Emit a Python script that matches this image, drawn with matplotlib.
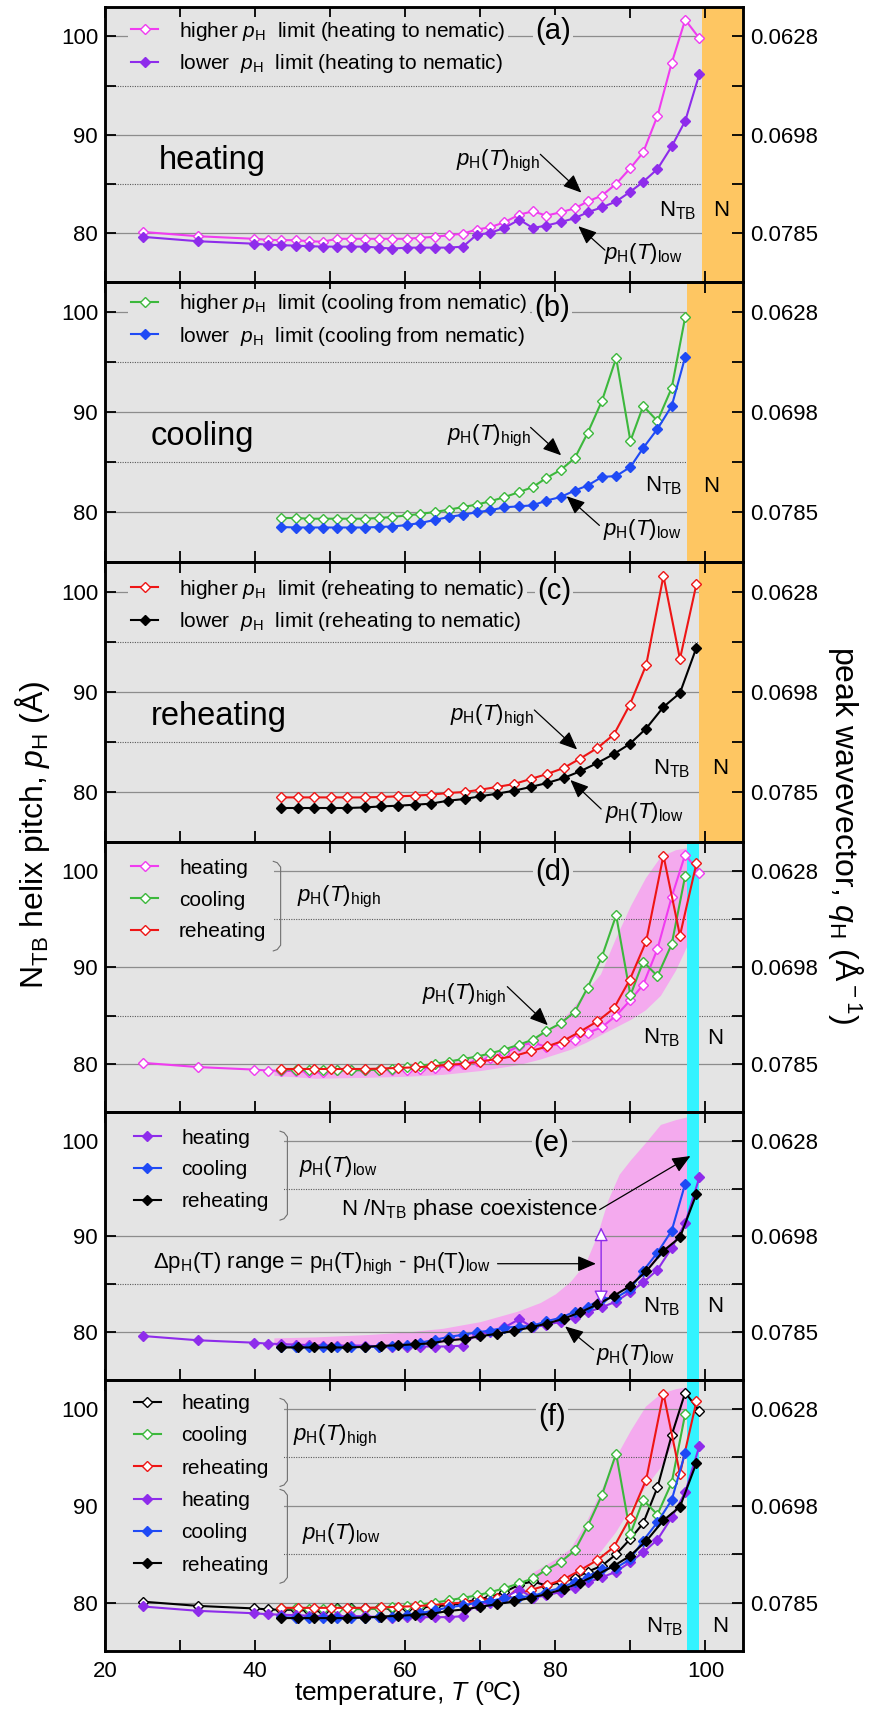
import numpy as np
import matplotlib
matplotlib.use("Agg")
import matplotlib.pyplot as plt
from matplotlib.lines import Line2D
from matplotlib.patches import Rectangle

plt.rcParams['font.family'] = ['Liberation Sans', 'DejaVu Sans']
plt.rcParams['mathtext.fontset'] = 'custom'
plt.rcParams['mathtext.rm'] = 'Liberation Sans'
plt.rcParams['mathtext.it'] = 'Liberation Sans:italic'
plt.rcParams['mathtext.bf'] = 'Liberation Sans:bold'

# ---------------- data ----------------
T_heat = [25.0, 32.4, 39.8, 41.7, 43.5, 45.4, 47.2, 49.0, 50.9, 52.8, 54.6, 56.5,
          58.3, 60.2, 62.0, 63.9, 65.8, 67.7, 69.5, 71.3, 73.2, 75.2, 77.0, 78.8,
          80.7, 82.6, 84.3, 86.2, 88.1, 90.0, 91.7, 93.6, 95.5, 97.3, 99.2]
heat_high = [80.1, 79.66, 79.4, 79.3, 79.26, 79.26, 79.15, 79.1, 79.4, 79.4, 79.4, 79.4,
             79.4, 79.4, 79.5, 79.6, 79.76, 79.93, 80.34, 80.57, 81.08, 81.86, 82.2, 81.76,
             82.1, 82.5, 83.2, 83.8, 85.0, 86.6, 88.2, 91.9, 97.3, 101.7, 99.8]
heat_low = [79.6, 79.15, 78.9, 78.8, 78.75, 78.7, 78.65, 78.6, 78.6, 78.6, 78.6, 78.5,
            78.4, 78.5, 78.5, 78.5, 78.5, 78.6, 79.8, 80.0, 80.5, 81.35, 80.5, 80.75,
            81.1, 81.5, 82.1, 82.6, 83.2, 84.2, 85.2, 86.5, 88.8, 91.4, 96.2]

T_cool = [43.5, 45.4, 47.2, 49.0, 50.9, 52.8, 54.6, 56.5, 58.3, 60.2, 62.0, 63.9,
          65.8, 67.7, 69.5, 71.3, 73.2, 75.2, 77.0, 78.8, 80.7, 82.6, 84.3, 86.2,
          88.1, 90.0, 91.7, 93.6, 95.5, 97.3]
cool_high = [79.4, 79.4, 79.33, 79.33, 79.33, 79.33, 79.33, 79.4, 79.5, 79.66, 79.8, 80.0,
             80.23, 80.5, 80.74, 81.07, 81.48, 82.0, 82.5, 83.4, 84.2, 85.4, 87.9, 91.1,
             95.4, 87.1, 90.6, 89.1, 92.4, 99.5]
cool_low = [78.5, 78.45, 78.45, 78.45, 78.45, 78.45, 78.45, 78.5, 78.55, 78.7, 78.9, 79.2,
            79.5, 79.73, 79.97, 80.17, 80.47, 80.57, 80.67, 81.14, 81.5, 82.15, 82.65, 83.5,
            83.6, 84.5, 86.4, 88.3, 90.6, 95.5]

T_reheat = [43.5, 45.7, 47.9, 50.1, 52.3, 54.6, 56.8, 59.0, 61.3, 63.4, 65.7, 67.9,
            70.0, 72.2, 74.5, 76.7, 78.9, 81.1, 83.3, 85.6, 87.8, 89.9, 92.1, 94.4,
            96.6, 98.8]
reheat_high = [79.46, 79.46, 79.46, 79.46, 79.46, 79.46, 79.5, 79.57, 79.63, 79.73, 79.9, 80.0,
               80.23, 80.5, 80.8, 81.3, 81.8, 82.4, 83.34, 84.4, 85.75, 88.7, 92.7, 101.6,
               93.3, 100.8]
reheat_low = [78.4, 78.4, 78.4, 78.4, 78.4, 78.46, 78.56, 78.63, 78.73, 78.83, 79.13, 79.3,
              79.57, 79.83, 80.13, 80.5, 80.9, 81.4, 82.07, 82.9, 83.8, 84.8, 86.35, 88.5,
              89.9, 94.45]

# N phase (orange) onsets for panels a-c, coexistence (cyan) band for d-f
nematic_start = [99.55, 97.55, 99.2]
coexist_band = [97.55, 99.1]

# shaded ranges
d_band_x = [42.5, 48, 55, 60, 65, 70, 75, 78, 80, 82, 84, 86, 88, 90, 92, 94, 96, 97.5, 98.5, 99.1]
d_band_hi = [79.5, 79.5, 79.6, 79.8, 80.2, 80.8, 82.0, 83.0, 84.0, 85.5, 87.5, 89.3, 93.0, 96.4,
             99.3, 101.5, 102.2, 102.4, 102.0, 101.0]
d_band_lo = [78.8, 78.5, 78.6, 78.7, 78.9, 79.3, 79.9, 80.5, 81.0, 81.5, 82.2, 83.0, 83.8, 84.6,
             85.6, 87.1, 89.7, 92.2, 94.0, 96.5]

e_band_x = [42.5, 48, 55, 60, 65, 70, 75, 78, 80, 82, 84, 85.5, 87, 88.5, 90, 92, 94, 96, 97.55]
e_band_hi = [79.4, 79.5, 79.75, 80.0, 80.4, 81.1, 82.2, 83.1, 84.0, 85.3, 87.2, 90.0, 93.8, 96.5,
             98.0, 99.8, 101.7, 102.2, 102.5]
e_band_lo = [78.6, 78.4, 78.4, 78.6, 78.9, 79.5, 80.3, 80.8, 81.2, 81.7, 82.3, 82.9, 83.6, 84.3,
             85.0, 86.2, 88.0, 89.5, 91.5]

f_band_x = [76.5, 78, 80, 82, 84, 86, 88, 90, 92, 94, 96, 97.55]
f_band_hi = [82.9, 83.6, 84.5, 85.6, 88.2, 91.5, 95.0, 97.8, 100.3, 101.6, 102.1, 102.3]
f_band_lo = [82.3, 81.8, 82.0, 82.6, 83.7, 85.3, 87.3, 89.8, 92.0, 94.0, 97.0, 99.5]

x_ticks = [20, 30, 40, 50, 60, 70, 80, 90, 100]
x_ticklabels = ['20', '', '40', '', '60', '', '80', '', '100']
y_ticks = [80, 85, 90, 95, 100]
y_ticklabels = ['80', '', '90', '', '100']
q_labels = [f"{2*np.pi/p:.4f}" if p % 10 == 0 else '' for p in y_ticks]

# ---------------- styles ----------------
BG = '#E4E4E4'
C_HEAT_HI = '#F03CF0'
C_HEAT_LO = '#8E2CEB'
C_COOL_HI = '#3CB83C'
C_COOL_LO = '#1F4AF5'
C_RE_HI = '#EE1515'
C_RE_LO = '#000000'
ORANGE = '#FEC662'
CYAN = '#33F3FF'
PINK = '#F4AAEE'
FS_TICK = 16
FS_ANN = 16
FS_LEG = 15
MS = 5.4
LW = 1.5

fig = plt.figure(figsize=(8.73, 17.11), dpi=100)
W, H = 873.0, 1711.0
left_px, right_px = 105, 743
panel_edges = [7, 282, 562, 842, 1112, 1380, 1651]

axes = []
for i in range(6):
    top, bot = panel_edges[i], panel_edges[i + 1]
    ax = fig.add_axes([left_px / W, 1 - bot / H, (right_px - left_px) / W, (bot - top) / H])
    axes.append(ax)

def style_axis(ax, bottom_labels):
    ax.set_facecolor(BG)
    ax.set_xlim(20, 105)
    ax.set_ylim(75, 103)
    ax.set_xticks(x_ticks)
    ax.set_xticklabels(x_ticklabels if bottom_labels else [''] * len(x_ticks))
    ax.set_yticks(y_ticks)
    ax.set_yticklabels(y_ticklabels)
    ax.tick_params(axis='both', direction='in', length=8, width=1.3, labelsize=FS_TICK,
                   top=True, right=False, pad=5)
    ax.tick_params(axis='x', pad=7)
    for s in ax.spines.values():
        s.set_linewidth(1.8)
    for y in (80, 90, 100):
        ax.axhline(y, color='#8c8c8c', lw=0.9, zorder=1)
    for y in (85, 95):
        ax.axhline(y, color='#5a5a5a', lw=0.8, ls=(0, (1, 1.2)), zorder=1)
    ax2 = ax.twinx()
    ax2.set_ylim(75, 103)
    ax2.set_yticks(y_ticks)
    ax2.set_yticklabels(q_labels)
    ax2.tick_params(axis='y', direction='in', length=8, width=1.3, labelsize=FS_TICK, pad=5)
    for s in ax2.spines.values():
        s.set_linewidth(1.8)

def series(ax, x, y, color, filled, line_color=None, z=3):
    lc = color if line_color is None else line_color
    ax.plot(x, y, '-', color=lc, lw=LW, marker='D', ms=MS,
            mfc=(color if filled else 'white'), mec=color, mew=1.0, zorder=z)

def handle(color, filled, line_color=None):
    lc = color if line_color is None else line_color
    return Line2D([], [], color=lc, lw=LW, marker='D', ms=MS,
                  mfc=(color if filled else 'white'), mec=color, mew=1.0)

def legend(ax, handles, labels, anchor, spacing):
    lg = ax.legend(handles, labels, loc='upper left', bbox_to_anchor=anchor, fontsize=FS_LEG,
                   frameon=True, fancybox=False, facecolor=BG, edgecolor='none', framealpha=1,
                   borderpad=0.15, borderaxespad=0, handlelength=1.3, handletextpad=1.0,
                   labelspacing=spacing, numpoints=1)
    lg.set_zorder(4)
    return lg

def arrow(ax, tail, head):
    ax.annotate('', xy=head, xytext=tail,
                arrowprops=dict(arrowstyle='-|>,head_length=0.7,head_width=0.3',
                                color='k', lw=0.9, shrinkA=0, shrinkB=0, mutation_scale=16),
                zorder=6)

def bracket(ax, x0, x1, ytop, ybot):
    d = 0.6
    ym = (ytop + ybot) / 2
    xs = [x0, x0 + 0.55 * (x1 - x0), x1, x1, x1, x1, x0 + 0.55 * (x1 - x0), x0]
    ys = [ytop, ytop - 0.25 * d, ytop - d, ym, ym, ybot + d, ybot + 0.25 * d, ybot]
    ax.plot(xs, ys, color='#707070', lw=0.8, zorder=5, solid_capstyle='round')

def ntb_labels(ax, x_ntb, x_n, y):
    ax.text(x_ntb, y, 'N$_{\\rm TB}$', fontsize=FS_ANN, ha='center', va='center', zorder=6)
    ax.text(x_n, y, 'N', fontsize=FS_ANN, ha='center', va='center', zorder=6)

def panel_label(ax, x, y, s):
    ax.text(x, y, s, fontsize=21, ha='center', va='center', zorder=6,
            bbox=dict(fc=BG, ec='none', pad=1.5))

HIGH = '$p_{\\rm H}(T)_{\\rm high}$'
LOW = '$p_{\\rm H}(T)_{\\rm low}$'

for i, ax in enumerate(axes):
    style_axis(ax, i == 5)

# ---- (a) heating ----
ax = axes[0]
ax.axvspan(nematic_start[0], 105, color=ORANGE, zorder=1.5, lw=0)
series(ax, T_heat, heat_high, C_HEAT_HI, False)
series(ax, T_heat, heat_low, C_HEAT_LO, True)
legend(ax, [handle(C_HEAT_HI, False), handle(C_HEAT_LO, True)],
       ['higher $p_{\\rm H}$  limit (heating to nematic)', 'lower  $p_{\\rm H}$  limit (heating to nematic)'],
       (0.036, 0.965), 0.45)
panel_label(ax, 79.7, 100.6, '(a)')
ax.text(27.2, 87.4, 'heating', fontsize=23.5, ha='left', va='center', zorder=6)
ax.text(78.0, 87.3, HIGH, fontsize=FS_ANN, ha='right', va='center', zorder=6)
arrow(ax, (78.0, 88.0), (83.47, 84.1))
ax.text(86.45, 77.95, LOW, fontsize=FS_ANN, ha='left', va='center', zorder=6)
arrow(ax, (86.6, 78.25), (83.06, 80.68))
ntb_labels(ax, 96.3, 102.1, 82.3)

# ---- (b) cooling ----
ax = axes[1]
ax.axvspan(nematic_start[1], 105, color=ORANGE, zorder=1.5, lw=0)
series(ax, T_cool, cool_high, C_COOL_HI, False)
series(ax, T_cool, cool_low, C_COOL_LO, True)
legend(ax, [handle(C_COOL_HI, False), handle(C_COOL_LO, True)],
       ['higher $p_{\\rm H}$  limit (cooling from nematic)', 'lower  $p_{\\rm H}$  limit (cooling from nematic)'],
       (0.036, 0.975), 0.45)
panel_label(ax, 79.6, 100.4, '(b)')
ax.text(26.1, 87.6, 'cooling', fontsize=23.5, ha='left', va='center', zorder=6)
ax.text(76.7, 87.6, HIGH, fontsize=FS_ANN, ha='right', va='center', zorder=6)
arrow(ax, (76.7, 88.46), (80.77, 85.67))
ax.text(86.4, 78.2, LOW, fontsize=FS_ANN, ha='left', va='center', zorder=6)
arrow(ax, (85.87, 78.66), (81.5, 81.58))
ntb_labels(ax, 94.4, 100.7, 82.6)

# ---- (c) reheating ----
ax = axes[2]
ax.axvspan(nematic_start[2], 105, color=ORANGE, zorder=1.5, lw=0)
series(ax, T_reheat, reheat_high, C_RE_HI, False)
series(ax, T_reheat, reheat_low, C_RE_LO, True)
legend(ax, [handle(C_RE_HI, False), handle(C_RE_LO, True)],
       ['higher $p_{\\rm H}$  limit (reheating to nematic)', 'lower  $p_{\\rm H}$  limit (reheating to nematic)'],
       (0.036, 0.955), 0.45)
panel_label(ax, 79.85, 100.1, '(c)')
ax.text(26.1, 87.6, 'reheating', fontsize=23.5, ha='left', va='center', zorder=6)
ax.text(77.2, 87.6, HIGH, fontsize=FS_ANN, ha='right', va='center', zorder=6)
arrow(ax, (77.2, 88.2), (82.9, 84.25))
ax.text(86.6, 77.9, LOW, fontsize=FS_ANN, ha='left', va='center', zorder=6)
arrow(ax, (86.1, 78.3), (82.0, 81.2))
ntb_labels(ax, 95.5, 101.9, 82.35)

# ---- (d) high limits ----
ax = axes[3]
ax.fill_between(d_band_x, d_band_lo, d_band_hi, color=PINK, lw=0, zorder=0.5)
ax.axvspan(coexist_band[0], coexist_band[1], color=CYAN, zorder=1.5, lw=0)
ax.add_patch(Rectangle((0, 0.55), 0.265, 0.45, transform=ax.transAxes, fc=BG, ec='none', zorder=1.6))
series(ax, T_heat, heat_high, C_HEAT_HI, False)
series(ax, T_cool, cool_high, C_COOL_HI, False)
series(ax, T_reheat, reheat_high, C_RE_HI, False)
legend(ax, [handle(C_HEAT_HI, False), handle(C_COOL_HI, False), handle(C_RE_HI, False)],
       ['heating', 'cooling', 'reheating'], (0.036, 0.95), 0.62)
bracket(ax, 42.4, 43.4, 101.0, 91.7)
ax.text(45.6, 97.3, HIGH, fontsize=FS_ANN, ha='left', va='center', zorder=6)
panel_label(ax, 79.7, 99.9, '(d)')
ax.text(73.4, 87.15, HIGH, fontsize=FS_ANN, ha='right', va='center', zorder=6)
arrow(ax, (73.6, 88.0), (79.0, 84.0))
ntb_labels(ax, 94.1, 101.3, 82.66)

# ---- (e) low limits ----
ax = axes[4]
ax.fill_between(e_band_x, e_band_lo, e_band_hi, color=PINK, lw=0, zorder=0.5)
ax.axvspan(coexist_band[0], coexist_band[1], color=CYAN, zorder=1.5, lw=0)
ax.add_patch(Rectangle((0, 0.55), 0.28, 0.45, transform=ax.transAxes, fc=BG, ec='none', zorder=1.6))
series(ax, T_heat, heat_low, C_HEAT_LO, True)
series(ax, T_cool, cool_low, C_COOL_LO, True)
series(ax, T_reheat, reheat_low, C_RE_LO, True)
legend(ax, [handle(C_HEAT_LO, True), handle(C_COOL_LO, True), handle(C_RE_LO, True)],
       ['heating', 'cooling', 'reheating'], (0.04, 0.95), 0.62)
bracket(ax, 43.3, 44.3, 101.0, 91.7)
ax.text(45.8, 97.3, LOW, fontsize=FS_ANN, ha='left', va='center', zorder=6)
panel_label(ax, 79.5, 99.8, '(e)')
ax.text(51.4, 92.85, 'N /N$_{\\rm TB}$ phase coexistence', fontsize=FS_ANN, ha='left', va='center', zorder=6)
arrow(ax, (85.9, 92.8), (98.0, 98.4))
ax.text(26.4, 87.15, 'Δp$_{\\rm H}$(T) range = p$_{\\rm H}$(T)$_{\\rm high}$ - p$_{\\rm H}$(T)$_{\\rm low}$',
        fontsize=FS_ANN, ha='left', va='center', zorder=6)
arrow(ax, (72.3, 87.15), (85.4, 87.15))
ax.annotate('', xy=(86.1, 90.95), xytext=(86.1, 82.9),
            arrowprops=dict(arrowstyle='<|-|>,head_length=0.6,head_width=0.3', facecolor='white',
                            edgecolor=C_HEAT_LO, lw=1.0, shrinkA=0, shrinkB=0, mutation_scale=14),
            zorder=6)
ax.text(85.35, 77.65, LOW, fontsize=FS_ANN, ha='left', va='center', zorder=6)
arrow(ax, (85.1, 78.17), (81.3, 80.6))
ntb_labels(ax, 94.1, 101.3, 82.66)

# ---- (f) all ----
ax = axes[5]
ax.fill_between(f_band_x, f_band_lo, f_band_hi, color=PINK, lw=0, zorder=0.5)
ax.axvspan(coexist_band[0], coexist_band[1], color=CYAN, zorder=1.5, lw=0)
ax.add_patch(Rectangle((0, 0.29), 0.28, 0.71, transform=ax.transAxes, fc=BG, ec='none', zorder=1.6))
series(ax, T_heat, heat_high, 'black', False)
series(ax, T_cool, cool_high, C_COOL_HI, False)
series(ax, T_reheat, reheat_high, C_RE_HI, False)
series(ax, T_heat, heat_low, C_HEAT_LO, True)
series(ax, T_cool, cool_low, C_COOL_LO, True)
series(ax, T_reheat, reheat_low, C_RE_LO, True)
legend(ax, [handle('black', False), handle(C_COOL_HI, False), handle(C_RE_HI, False),
            handle(C_HEAT_LO, True), handle(C_COOL_LO, True), handle(C_RE_LO, True)],
       ['heating', 'cooling', 'reheating', 'heating', 'cooling', 'reheating'], (0.04, 0.96), 0.64)
bracket(ax, 43.3, 44.3, 101.1, 92.0)
bracket(ax, 43.3, 44.3, 91.7, 82.0)
ax.text(45.1, 97.2, HIGH, fontsize=FS_ANN, ha='left', va='center', zorder=6)
ax.text(46.3, 87.1, LOW, fontsize=FS_ANN, ha='left', va='center', zorder=6)
panel_label(ax, 79.6, 99.2, '(f)')
ntb_labels(ax, 94.5, 101.9, 77.5)

# ---- axis titles ----
fig.text(0.037, 0.512, 'N$_{\\rm TB}$ helix pitch, $p_{\\rm H}$ (Å)', rotation=90,
         fontsize=23, ha='center', va='center')
fig.text(0.969, 0.512, 'peak wavevector, $q_{\\rm H}$ (Å$^{\\rm -1}$)', rotation=270,
         fontsize=23, ha='center', va='center')
fig.text(0.467, 0.0105, 'temperature, $T$ (ºC)', fontsize=19, ha='center', va='center')

fig.savefig('out.png', dpi=100, facecolor='white')
